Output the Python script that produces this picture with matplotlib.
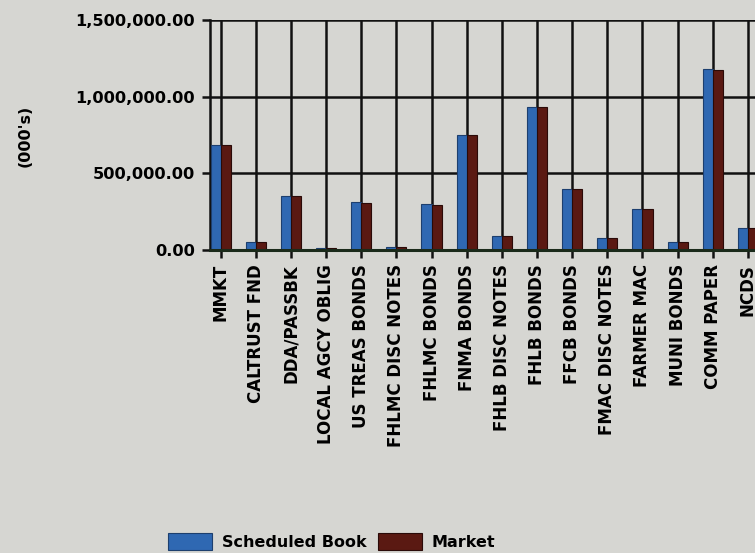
import matplotlib
matplotlib.use("Agg")
import matplotlib.pyplot as plt
import numpy as np
from matplotlib.ticker import FuncFormatter

categories = ["MMKT", "CALTRUST FND", "DDA/PASSBK", "LOCAL AGCY OBLIG", "US TREAS BONDS",
              "FHLMC DISC NOTES", "FHLMC BONDS", "FNMA BONDS", "FHLB DISC NOTES", "FHLB BONDS",
              "FFCB BONDS", "FMAC DISC NOTES", "FARMER MAC", "MUNI BONDS", "COMM PAPER", "NCDS"]
scheduled_book = [685000, 54000, 352000, 11000, 311000, 22000, 298000, 750000, 93000, 935000,
                  398000, 80000, 267000, 50000, 1181000, 143000]
market = [683000, 54000, 350000, 11000, 309000, 22000, 296000, 748000, 92000, 932000,
          396000, 79000, 265000, 50000, 1176000, 142000]
yticks = [0, 500000, 1000000, 1500000]

bg = "#d6d6d2"
blue = "#2f68b2"
red = "#5a1912"

fig = plt.figure(figsize=(7.55, 5.53), dpi=100, facecolor=bg)
ax = fig.add_axes([210/755, 1-250/553, 1-210/755, 230/553])
ax.set_facecolor(bg)

x = np.arange(len(categories))
w = 0.285
ax.bar(x - w/2, scheduled_book, width=w, color=blue, edgecolor="#1d3f6e", linewidth=0.8, zorder=3,
       label="Scheduled Book")
ax.bar(x + w/2, market, width=w, color=red, edgecolor="#2a0a08", linewidth=0.8, zorder=3,
       label="Market")

ax.set_xlim(-0.3, 15.2)
ax.set_ylim(0, 1500000)
ax.set_yticks(yticks)
ax.yaxis.set_major_formatter(FuncFormatter(lambda v, p: f"{v:,.2f}"))
ax.set_xticks(x)
ax.set_xticklabels(categories, rotation=90, fontsize=12, fontweight="bold")
for lab in ax.get_yticklabels():
    lab.set_fontsize(11.7)
    lab.set_fontweight("bold")

ax.grid(True, axis="both", color="#111111", linewidth=1.8, zorder=1)
ax.set_axisbelow(True)
ax.tick_params(axis="x", length=6, width=1.8, color="#111111", pad=4)
ax.tick_params(axis="y", length=6, width=1.8, color="#111111", pad=5)
for s in ["top", "right"]:
    ax.spines[s].set_visible(False)
ax.spines["left"].set_linewidth(1.8)
ax.spines["left"].set_color("#111111")
ax.spines["bottom"].set_linewidth(2.2)
ax.spines["bottom"].set_color("#1a2a1a")
ax.spines["bottom"].set_zorder(4)

fig.text(25/755, 1-136/553, "(000's)", rotation=90, fontsize=11.5, fontweight="bold",
         ha="center", va="center")

fig.legend(loc="lower left", bbox_to_anchor=(154/755, -0.02), ncol=2, frameon=False,
           prop={"weight": "bold", "size": 11.5}, handlelength=2.75, handleheight=1.25,
           handletextpad=0.6, columnspacing=0.75)

fig.savefig("out.png", dpi=100, facecolor=bg)
